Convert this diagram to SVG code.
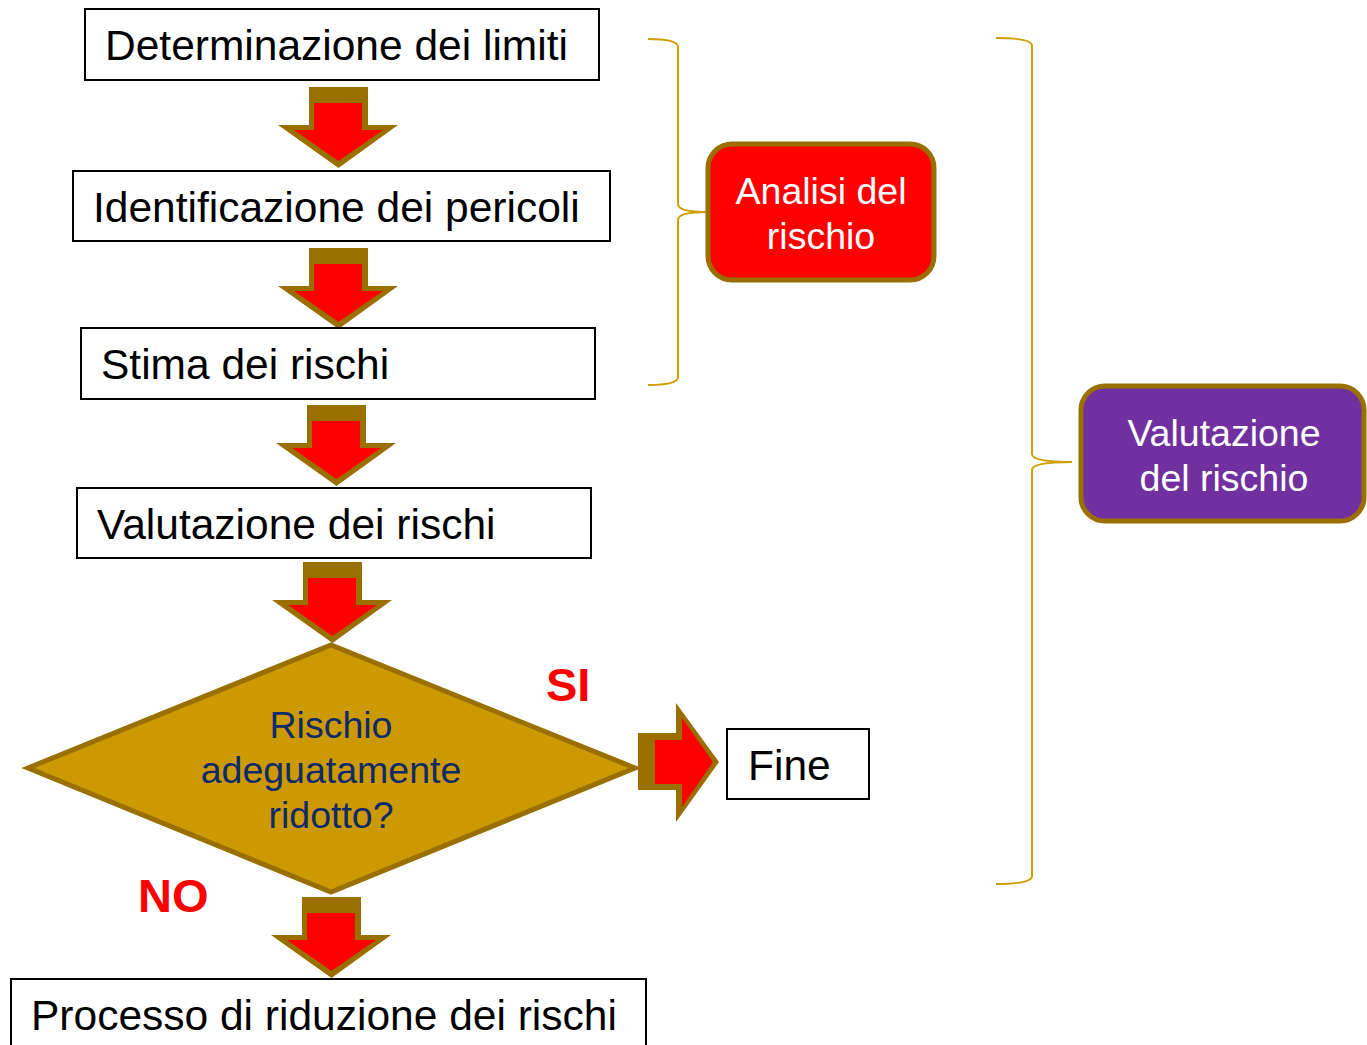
<svg xmlns="http://www.w3.org/2000/svg" xmlns:xlink="http://www.w3.org/1999/xlink" width="1367" height="1045" viewBox="0 0 1367 1045">
<style>
.box{fill:#fff;stroke:#000;stroke-width:2}
.bt{font-family:"Liberation Sans",Arial,sans-serif;font-size:42.5px;fill:#000}
.dt{font-family:"Liberation Sans",Arial,sans-serif;font-size:37.5px;fill:#0D2A6B;text-anchor:middle}
.wt{font-family:"Liberation Sans",Arial,sans-serif;font-size:37.5px;fill:#fff;text-anchor:middle}
.lbl{font-family:"Liberation Sans",Arial,sans-serif;font-size:47px;font-weight:bold;fill:#FF0000}
.brace{fill:none;stroke:#D19E00;stroke-width:2}
.ao{fill:#996F00}
.ai{fill:#FF0000}
</style>
<defs>
<g id="darrow">
<polygon class="ao" points="0,0 59,0 59,38 89,38 29.5,81 -31,38 0,38"/>
<polygon class="ai" points="5,16 53,16 53,43 74,43 29.5,74 -15,43 5,43"/>
</g>
</defs>
<rect width="1367" height="1045" fill="#fff"/>
<g id="connectors">
<use xlink:href="#darrow" transform="translate(309,87)"/>
<use xlink:href="#darrow" transform="translate(309,248)"/>
<use xlink:href="#darrow" transform="translate(307,405)"/>
<use xlink:href="#darrow" transform="translate(303,562)"/>
<use xlink:href="#darrow" transform="translate(302,897)"/>
<g id="arrow-si">
<polygon class="ao" points="638,733 676,733 676,703 719,762 676,822 676,790 638,790"/>
<polygon class="ai" points="655,740 682,740 682,718 713,762 682,807 682,784 655,784"/>
</g>
<path class="brace" d="M648,39 Q678,39 678,47 L678,204 Q678,212 707,212 Q678,212 678,220 L678,377 Q678,385 648,385"/>
<path class="brace" d="M996,38 Q1032,38 1032,46 L1032,454 Q1032,462 1072,462 Q1032,462 1032,470 L1032,876 Q1032,884 996,884"/>
</g>
<g id="n-limiti">
<rect class="box" x="85" y="9" width="514" height="71"/>
<text class="bt" x="105" y="60">Determinazione dei limiti</text>
</g>
<g id="n-pericoli">
<rect class="box" x="73" y="171" width="537" height="70"/>
<text class="bt" x="93" y="222">Identificazione dei pericoli</text>
</g>
<g id="n-stima">
<rect class="box" x="81" y="328" width="514" height="71"/>
<text class="bt" x="101" y="379">Stima dei rischi</text>
</g>
<g id="n-valutazione">
<rect class="box" x="77" y="488" width="514" height="70"/>
<text class="bt" x="97" y="539">Valutazione dei rischi</text>
</g>
<g id="n-decisione">
<polygon points="28,768 331,645 635,768 331,892" fill="#CC9900" stroke="#996F00" stroke-width="5" stroke-linejoin="miter"/>
<text class="dt" x="331" y="738">Rischio</text>
<text class="dt" x="331" y="783">adeguatamente</text>
<text class="dt" x="331" y="828">ridotto?</text>
</g>
<g id="n-fine">
<rect class="box" x="727" y="729" width="142" height="70"/>
<text class="bt" x="748" y="780">Fine</text>
</g>
<g id="n-riduzione">
<rect class="box" x="11" y="979" width="635" height="80"/>
<text class="bt" x="31" y="1030">Processo di riduzione dei rischi</text>
</g>
<g id="n-analisi">
<rect x="708" y="144" width="226" height="136" rx="24" ry="24" fill="#FF0000" stroke="#996F00" stroke-width="5"/>
<text class="wt" x="821" y="204">Analisi del</text>
<text class="wt" x="821" y="249">rischio</text>
</g>
<g id="n-valrischio">
<rect x="1081" y="386" width="283" height="135" rx="24" ry="24" fill="#7030A0" stroke="#996F00" stroke-width="5"/>
<text class="wt" x="1224" y="446">Valutazione</text>
<text class="wt" x="1224" y="491">del rischio</text>
</g>
<text class="lbl" x="546" y="701">SI</text>
<text class="lbl" x="138" y="912">NO</text>
</svg>
